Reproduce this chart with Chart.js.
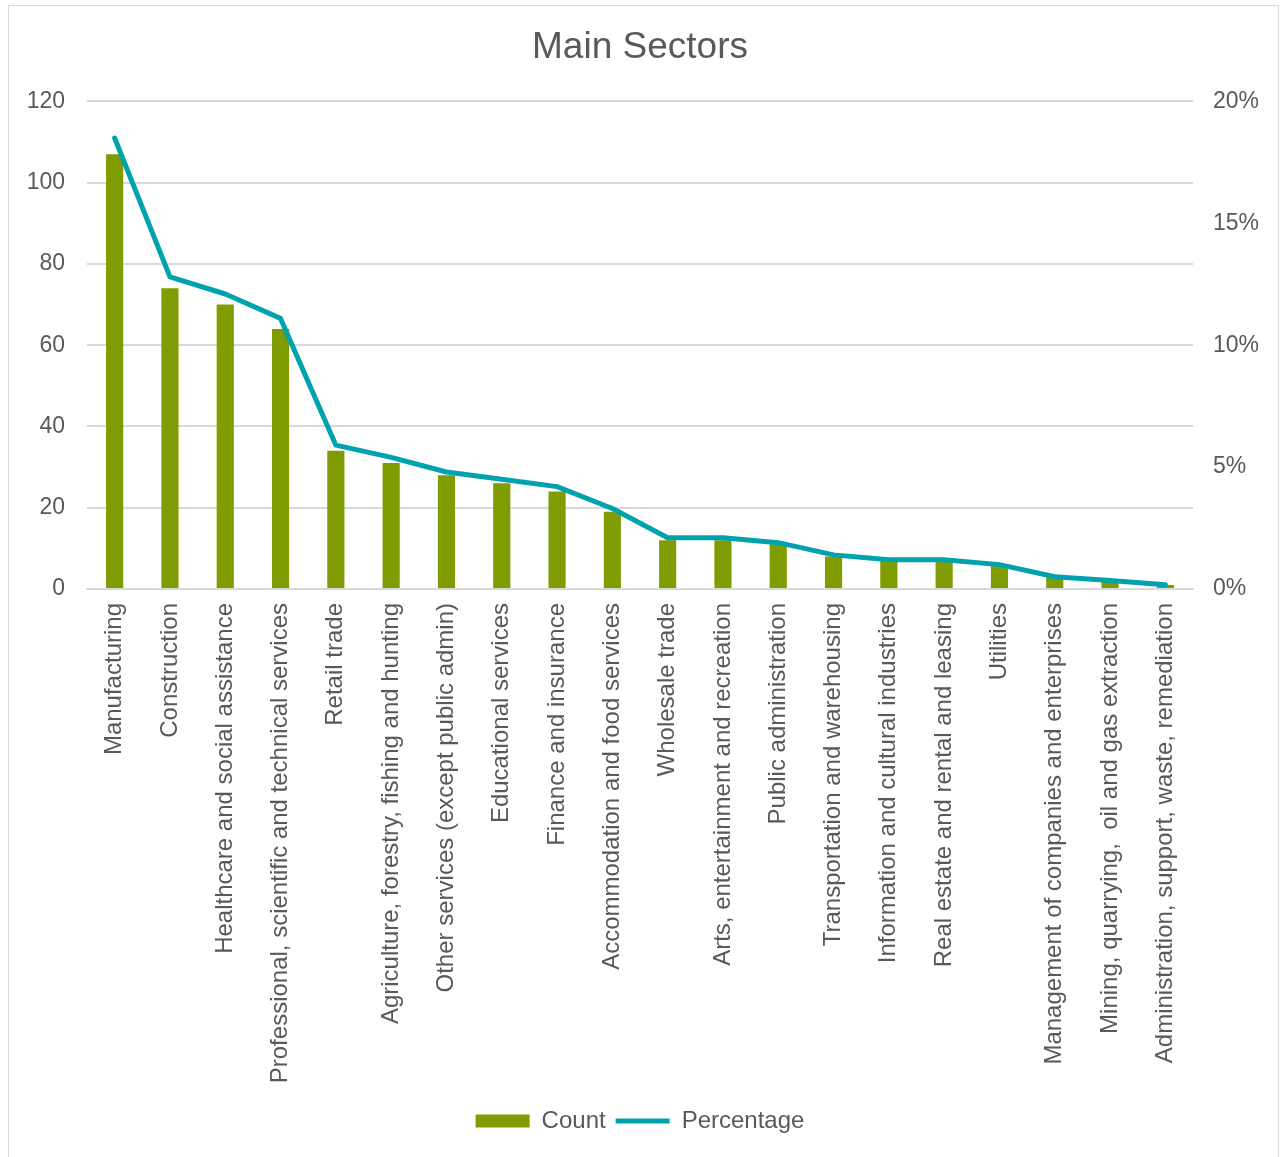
<!DOCTYPE html>
<html>
<head>
<meta charset="utf-8">
<title>Main Sectors</title>
<script src="https://cdn.jsdelivr.net/npm/chart.js@4"></script>
<style>
  body { margin: 0; background: #fff; }
  #wrap { position: relative; width: 1280px; height: 1157px; }
  #frame {
    position: absolute; left: 8px; top: 5px; width: 1269px; height: 1160px;
    border: 1px solid #d9d9d9; pointer-events: none;
  }
</style>
</head>
<body>
<div id="wrap">
  <canvas id="chart" width="1280" height="1157"></canvas>
  <div id="frame"></div>
</div>
<script>
const sectors = [
    'Manufacturing',
    'Construction',
    'Healthcare and social assistance',
    'Professional, scientific and technical services',
    'Retail trade',
    'Agriculture, forestry, fishing and hunting',
    'Other services (except public admin)',
    'Educational services',
    'Finance and insurance',
    'Accommodation and food services',
    'Wholesale trade',
    'Arts, entertainment and recreation',
    'Public administration',
    'Transportation and warehousing',
    'Information and cultural industries',
    'Real estate and rental and leasing',
    'Utilities',
    'Management of companies and enterprises',
    'Mining, quarrying,  oil and gas extraction',
    'Administration, support, waste, remediation'
];

const counts = [107, 74, 70, 64, 34, 31, 28, 26, 24, 19, 12, 12, 11, 8, 7, 7, 6, 3, 2, 1];

// percent of respondents
const percentages = [18.5, 12.8, 12.1, 11.1, 5.9, 5.4, 4.8, 4.5, 4.2, 3.3, 2.1, 2.1, 1.9, 1.4, 1.2, 1.2, 1.0, 0.5, 0.35, 0.17];

const countTicks = [0, 20, 40, 60, 80, 100, 120];
const percentTicks = [0, 5, 10, 15, 20];

const textColor = '#595959';
const gridColor = '#d9d9d9';
const fontFamily = '"Liberation Sans", Arial, sans-serif';

const ctx = document.getElementById('chart');

new Chart(ctx, {
    type: 'bar',
    data: {
        labels: sectors,
        datasets: [{
            type: 'line',
            label: 'Percentage',
            data: percentages,
            yAxisID: 'y2',
            borderColor: '#00a3ad',
            backgroundColor: '#00a3ad',
            borderWidth: 5,
            borderCapStyle: 'round',
            borderJoinStyle: 'round',
            tension: 0,
            pointRadius: 0,
            pointStyle: 'line',
            order: 1
        }, {
            label: 'Count',
            data: counts,
            yAxisID: 'y',
            backgroundColor: '#7f9c00',
            borderWidth: 0,
            pointStyle: 'rect',
            barPercentage: 0.31,
            categoryPercentage: 1,
            order: 2
        }]
    },
    options: {
        responsive: false,
        animation: false,
        layout: { padding: { top: 0, left: 0, right: 0, bottom: 14 } },
        plugins: {
            title: {
                display: true,
                text: 'Main Sectors',
                color: textColor,
                font: { family: fontFamily, size: 37, weight: 'normal' },
                padding: { top: 26, bottom: 31 }
            },
            legend: {
                position: 'bottom',
                reverse: true,
                labels: {
                    color: textColor,
                    font: { family: fontFamily, size: 24 },
                    usePointStyle: true,
                    pointStyleWidth: 54,
                    boxHeight: 13,
                    padding: 10
                }
            },
            tooltip: { enabled: false }
        },
        scales: {
            x: {
                grid: { display: false },
                border: { display: true, color: gridColor, width: 2 },
                ticks: {
                    color: textColor,
                    font: { family: fontFamily, size: 24 },
                    minRotation: 90,
                    maxRotation: 90,
                    autoSkip: false,
                    padding: 6
                },
                afterFit: scale => { scale.height = 510; }
            },
            y: {
                position: 'left',
                min: 0,
                max: 120,
                afterBuildTicks: scale => { scale.ticks = countTicks.map(v => ({ value: v })); },
                grid: { color: gridColor, lineWidth: 2, drawTicks: false },
                border: { display: false },
                ticks: {
                    color: textColor,
                    font: { family: fontFamily, size: 23 },
                    padding: 22
                },
                afterFit: scale => { scale.width = 87; }
            },
            y2: {
                position: 'right',
                min: 0,
                max: 20,
                afterBuildTicks: scale => { scale.ticks = percentTicks.map(v => ({ value: v })); },
                grid: { display: false, drawTicks: false },
                border: { display: false },
                ticks: {
                    color: textColor,
                    font: { family: fontFamily, size: 23 },
                    padding: 20,
                    callback: v => v + '%'
                },
                afterFit: scale => { scale.width = 87; }
            }
        }
    }
});
</script>
</body>
</html>
